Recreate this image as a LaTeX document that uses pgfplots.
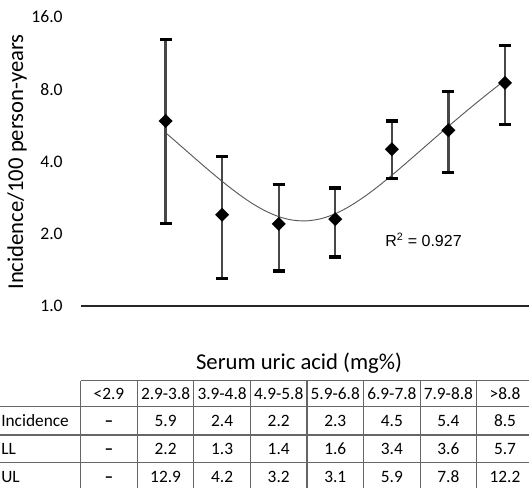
\documentclass[border=0pt]{standalone}
\usepackage{pgfplots}
\pgfplotsset{compat=1.18}
\usepackage{pgfplotstable}
\usepackage{fontspec}
\setmainfont{Carlito}
\newfontfamily\arialf{Liberation Sans}
\pgfdeclareplotmark{dmd}{%
  \pgfpathmoveto{\pgfqpoint{0pt}{\pgfplotmarksize}}%
  \pgfpathlineto{\pgfqpoint{\pgfplotmarksize}{0pt}}%
  \pgfpathlineto{\pgfqpoint{0pt}{-\pgfplotmarksize}}%
  \pgfpathlineto{\pgfqpoint{-\pgfplotmarksize}{0pt}}%
  \pgfpathclose\pgfusepathqfill}
\pgfdeclareplotmark{capbar}{%
  \pgfsetlinewidth{2.4pt}%
  \pgfpathmoveto{\pgfqpoint{0pt}{\pgfplotmarksize}}%
  \pgfpathlineto{\pgfqpoint{0pt}{-\pgfplotmarksize}}%
  \pgfusepathqstroke}
\pgfplotstableread{
x y ep em
1 5.9 7.0 3.7
2 2.4 1.8 1.1
3 2.2 1.0 0.8
4 2.3 0.8 0.7
5 4.5 1.4 1.1
6 5.4 2.4 1.8
7 8.5 3.7 2.8
}\incid
\begin{document}
\begin{tikzpicture}
\begin{axis}[
  at={(60.525pt,-229.5pt)}, anchor=south west,
  scale only axis, width=343.7pt, height=216.75pt,
  xmin=-0.5, xmax=7.6, ymin=1, ymax=16,
  ymode=log, log basis y=2,
  ytick={1,2,4,8,16}, yticklabels={1.0,2.0,4.0,8.0,16.0},
  xtick=\empty,
  axis x line*=bottom, axis y line*=left,
  x axis line style={line width=1.3pt, black!85},
  y axis line style={draw=none},
  ytick style={draw=none},
  yticklabel style={font=\fontsize{13.2}{15}\selectfont, xshift=-10pt},
  clip=false,
]
\addplot[color=black!65, line width=0.7pt, smooth] coordinates {
(1,5.274) (1.25,4.687) (1.5,4.163) (1.75,3.703) (2,3.307) (2.25,2.975)
(2.5,2.705) (2.75,2.499) (3,2.357) (3.25,2.279) (3.5,2.264) (3.75,2.312)
(4,2.424) (4.25,2.600) (4.5,2.839) (4.75,3.141) (5,3.507) (5.25,3.937)
(5.5,4.430) (5.75,4.987) (6,5.607) (6.25,6.291) (6.5,7.038) (6.75,7.849) (7,8.724)
};
\addplot[only marks, mark=dmd, mark size=5.25pt, black,
  error bars/.cd, y dir=both, y explicit, error mark=capbar,
  error bar style={line width=1.6pt, color=black!72},
  error mark options={mark size=4.5pt, draw=black, fill=black}]
  table[x=x, y=y, y error plus=ep, y error minus=em]{\incid};
\end{axis}
\begin{scope}[x=0.75pt,y=-0.75pt]
% y label
\node[rotate=90, font=\fontsize{17}{20}\selectfont] at (17,162) {Incidence/100 person-years};
% R^2
\node[anchor=base west, inner sep=0pt, font=\arialf\fontsize{12}{14}\selectfont] at (385,246) {R\textsuperscript{2} = 0.927};
% table title
\node[font=\fontsize{17}{20}\selectfont] at (299,363) {Serum uric acid (mg\%)};
% table lines
\tikzset{tbl/.style={draw=black!60, line width=0.8pt}}
\draw[tbl] (80.7,380.7) -- (545,380.7);
\foreach \yy in {406.7,435,462.3} \draw[tbl] (-10,\yy) -- (545,\yy);
\foreach \xx in {80.7,137.3,193.8,250.4,307.0,363.6,420.1,476.7,533.3}
  \draw[tbl] (\xx,380.7) -- (\xx,500);
% header
\foreach \xx/\t in {109.0/{<2.9},165.6/{2.9-3.8},222.1/{3.9-4.8},278.7/{4.9-5.8},335.3/{5.9-6.8},391.9/{6.9-7.8},448.4/{7.9-8.8},505.0/{>8.8}}
  \node[anchor=base, inner sep=0pt, font=\fontsize{13}{15}\selectfont] at (\xx,399) {\t};
% row labels
\node[anchor=base west, inner sep=0pt, font=\fontsize{13}{15}\selectfont] at (1,426.5) {Incidence};
\node[anchor=base west, inner sep=0pt, font=\fontsize{13}{15}\selectfont] at (1,454.2) {LL};
\node[anchor=base west, inner sep=0pt, font=\fontsize{13}{15}\selectfont] at (1,482) {UL};
% rows
\foreach \xx/\t in {109.0/{\textbf{--}},165.6/5.9,222.1/2.4,278.7/2.2,335.3/2.3,391.9/4.5,448.4/5.4,505.0/8.5}
  \node[anchor=base, inner sep=0pt, font=\fontsize{13}{15}\selectfont] at (\xx,426.5) {\t};
\foreach \xx/\t in {109.0/{\textbf{--}},165.6/2.2,222.1/1.3,278.7/1.4,335.3/1.6,391.9/3.4,448.4/3.6,505.0/5.7}
  \node[anchor=base, inner sep=0pt, font=\fontsize{13}{15}\selectfont] at (\xx,454.2) {\t};
\foreach \xx/\t in {109.0/{\textbf{--}},165.6/12.9,222.1/4.2,278.7/3.2,335.3/3.1,391.9/5.9,448.4/7.8,505.0/12.2}
  \node[anchor=base, inner sep=0pt, font=\fontsize{13}{15}\selectfont] at (\xx,482) {\t};
\pgfresetboundingbox
\path[use as bounding box] (0,0) rectangle (529,487);
\end{scope}
\end{tikzpicture}
\end{document}
